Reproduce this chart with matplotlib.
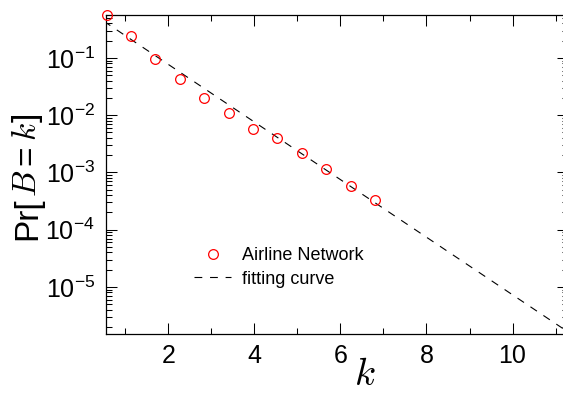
import math
import matplotlib
matplotlib.use("Agg")
import matplotlib.pyplot as plt
from matplotlib.ticker import LogLocator, FuncFormatter, MultipleLocator, NullFormatter

plt.rcParams["font.family"] = ["Liberation Sans", "DejaVu Sans"]
plt.rcParams["mathtext.fontset"] = "custom"
plt.rcParams["mathtext.rm"] = "Liberation Sans"
plt.rcParams["mathtext.it"] = "cmmi10"

# observed distribution
k_obs = [0.57, 1.13, 1.70, 2.27, 2.83, 3.40, 3.97, 4.53, 5.10, 5.67, 6.24, 6.80]
p_obs = [0.565, 0.243, 0.097, 0.042, 0.020, 0.0108, 0.0057, 0.0040,
         0.0022, 0.00116, 0.00059, 0.00033]

# fitted exponential (straight on the semi-log axes), given by its ends
fit_k = [0.5, 11.5]
fit_p = [0.437, 1.28e-6]

W, H = 563, 393
fig = plt.figure(figsize=(W / 100, H / 100), dpi=100)
ax = fig.add_axes([0.1883, 0.150, 0.8206, 0.8118])

ax.plot(k_obs, p_obs, "o", mfc="none", mec="red", ms=7, mew=0.9,
        clip_on=False, zorder=3, label="Airline Network")
ax.plot(fit_k, fit_p, "--", color="black", lw=0.8, dashes=(7, 7),
        label="fitting curve")

ax.set_yscale("log")
ax.set_xlim(0.55, 11.29)
ax.set_ylim(1.5e-6, 0.562)

ax.xaxis.set_major_locator(MultipleLocator(2))
ax.xaxis.set_minor_locator(MultipleLocator(1))
ax.yaxis.set_major_locator(LogLocator(base=10, numticks=12))
ax.yaxis.set_minor_locator(LogLocator(base=10, subs=range(2, 10), numticks=12))
ax.yaxis.set_major_formatter(
    FuncFormatter(lambda v, pos: r"$\mathregular{10^{%d}}$" % round(math.log10(v))))
ax.yaxis.set_minor_formatter(NullFormatter())

ax.tick_params(which="both", direction="in", top=True, right=True, width=0.75)
ax.tick_params(which="major", length=8, labelsize=18)
ax.tick_params(axis="x", which="major", pad=7)
ax.tick_params(axis="y", which="major", pad=8)
ax.tick_params(which="minor", length=4)
for s in ax.spines.values():
    s.set_linewidth(0.9)

ax.set_xlabel("$k$", fontsize=28, va="center")
ax.xaxis.set_label_coords(0.56, -0.128)

# y label built piece by piece: sans "Pr[", "=", "]" with italic B and k
renderer = fig.canvas.get_renderer()
ylabel_parts = [("Pr[", 0), ("$B$", 0), ("=", 5), ("$k$", 5), ("]", 0)]
ypos = H - 240
for part, gap in ylabel_parts:
    ypos += gap
    t = fig.text(36 / W, ypos / H, part, rotation=90, rotation_mode="anchor",
                 ha="left", va="baseline", fontsize=24)
    ypos += t.get_window_extent(renderer).height

ax.legend(loc="upper left", bbox_to_anchor=(0.17, 0.30), frameon=False,
          fontsize=13, handlelength=2.1, handletextpad=0.6, borderpad=0,
          labelspacing=0.35)

fig.savefig("out.png", dpi=100)
